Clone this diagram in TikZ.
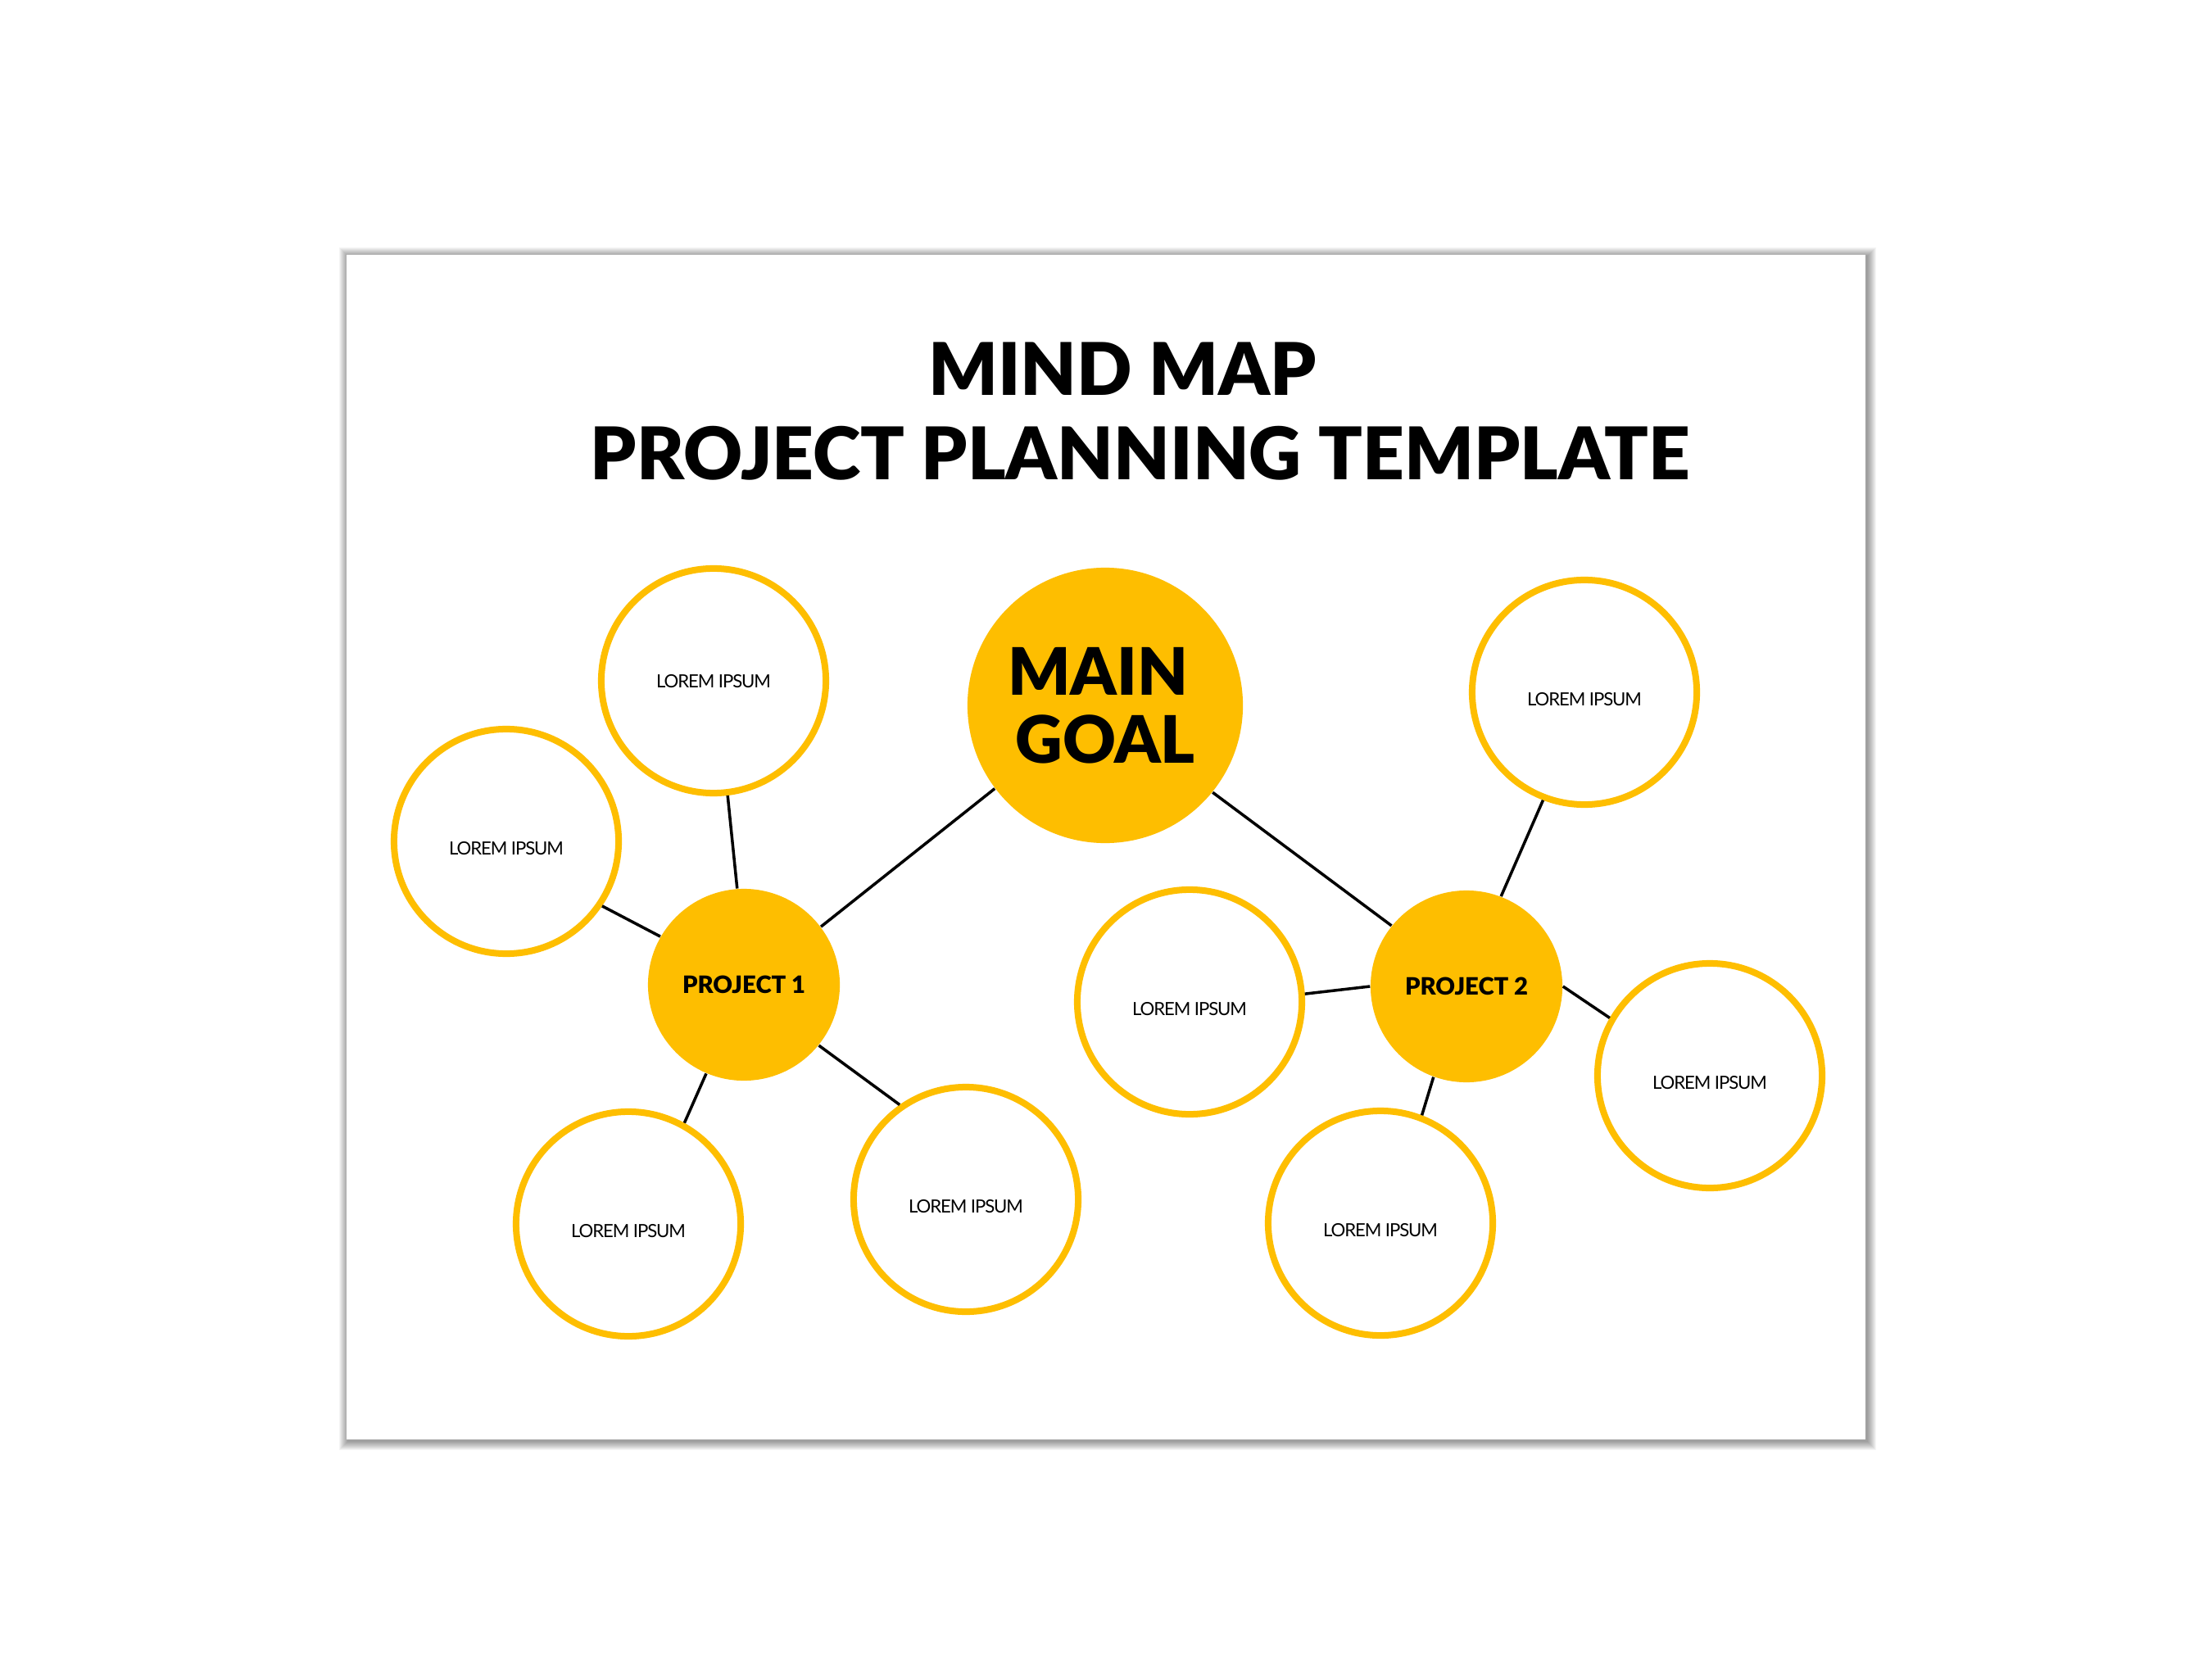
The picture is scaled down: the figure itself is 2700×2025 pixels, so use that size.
\documentclass[tikz,border=0pt]{standalone}
\usepackage{fontspec}
\setmainfont{Lato}
\newfontfamily\lblack{Lato Black}
\newfontfamily\lreg[LetterSpace=-5]{Lato}
\definecolor{gold}{RGB}{254,190,0}
\tikzset{
  lorem/.style={circle, draw=gold, line width=0.08cm, fill=white, minimum size=2.74cm, inner sep=0pt,
    font=\lreg\fontsize{6.3}{7}\selectfont, text height=9.5pt, text depth=0pt},
  proj/.style={circle, fill=gold, minimum size=2.34cm, inner sep=0pt, font=\lblack\fontsize{8.3}{9}\selectfont},
  goal/.style={circle, fill=gold, minimum size=3.36cm, inner sep=0pt, align=center,
    font=\lblack\fontsize{22.7}{23.5}\selectfont},
  titletext/.style={inner sep=0pt, anchor=base, font=\lblack\fontsize{25.2}{30}\selectfont},
  link/.style={line width=1pt, black},
}
\begin{document}
\begin{tikzpicture}[x=0.01cm,y=-0.01cm]
\useasboundingbox (0,0) rectangle (2700,2025);
\fill[white] (0,0) rectangle (2700,2025);
% page shadow
\foreach \d in {1,...,11}
  \fill[black,opacity=0.04] (423-\d+2,311-\d+2) rectangle (2277+\d+2,1757+\d+2);
\fill[white] (423,311) rectangle (2277,1757);
% title
\node[titletext] (t1) at (1370,483) {MIND MAP};
\node[titletext] (t2) at (1392,586) {PROJECT PLANNING TEMPLATE};
% nodes
\node[goal] (goal) at (1349,861) {MAIN\kern5pt\\GOAL};
\node[proj] (p1) at (908,1202) {PROJECT 1};
\node[proj] (p2) at (1790,1204) {PROJECT 2};
\node[lorem, text height=5pt] (l1) at (871,831) {LOREM IPSUM};
\node[lorem] (l2) at (618,1027) {LOREM IPSUM};
\node[lorem] (l3) at (767,1494) {LOREM IPSUM};
\node[lorem] (l4) at (1179,1464) {LOREM IPSUM};
\node[lorem] (l5) at (1934,845) {LOREM IPSUM};
\node[lorem] (l6) at (1452,1223) {LOREM IPSUM};
\node[lorem] (l7) at (1685,1493) {LOREM IPSUM};
\node[lorem] (l8) at (2087,1313) {LOREM IPSUM};
% connectors
\draw[link] (goal.217.9) -- (p1.37.7);
\draw[link] (goal.321.7) -- (p2.141.6);
\draw[link] (p1.94.5) -- (l1.277);
\draw[link] (p1.150.8) -- (l2.326.8);
\draw[link] (p1.247.3) -- (l3.61.4);
\draw[link] (p1.321.8) -- (l4.125.8);
\draw[link] (p2.69.3) -- (l5.249.2);
\draw[link] (p2.180) -- (l6.4.9);
\draw[link] (p2.250.2) -- (l7.69.9);
\draw[link] (p2.0) -- (l8.150.6);
\end{tikzpicture}
\end{document}
